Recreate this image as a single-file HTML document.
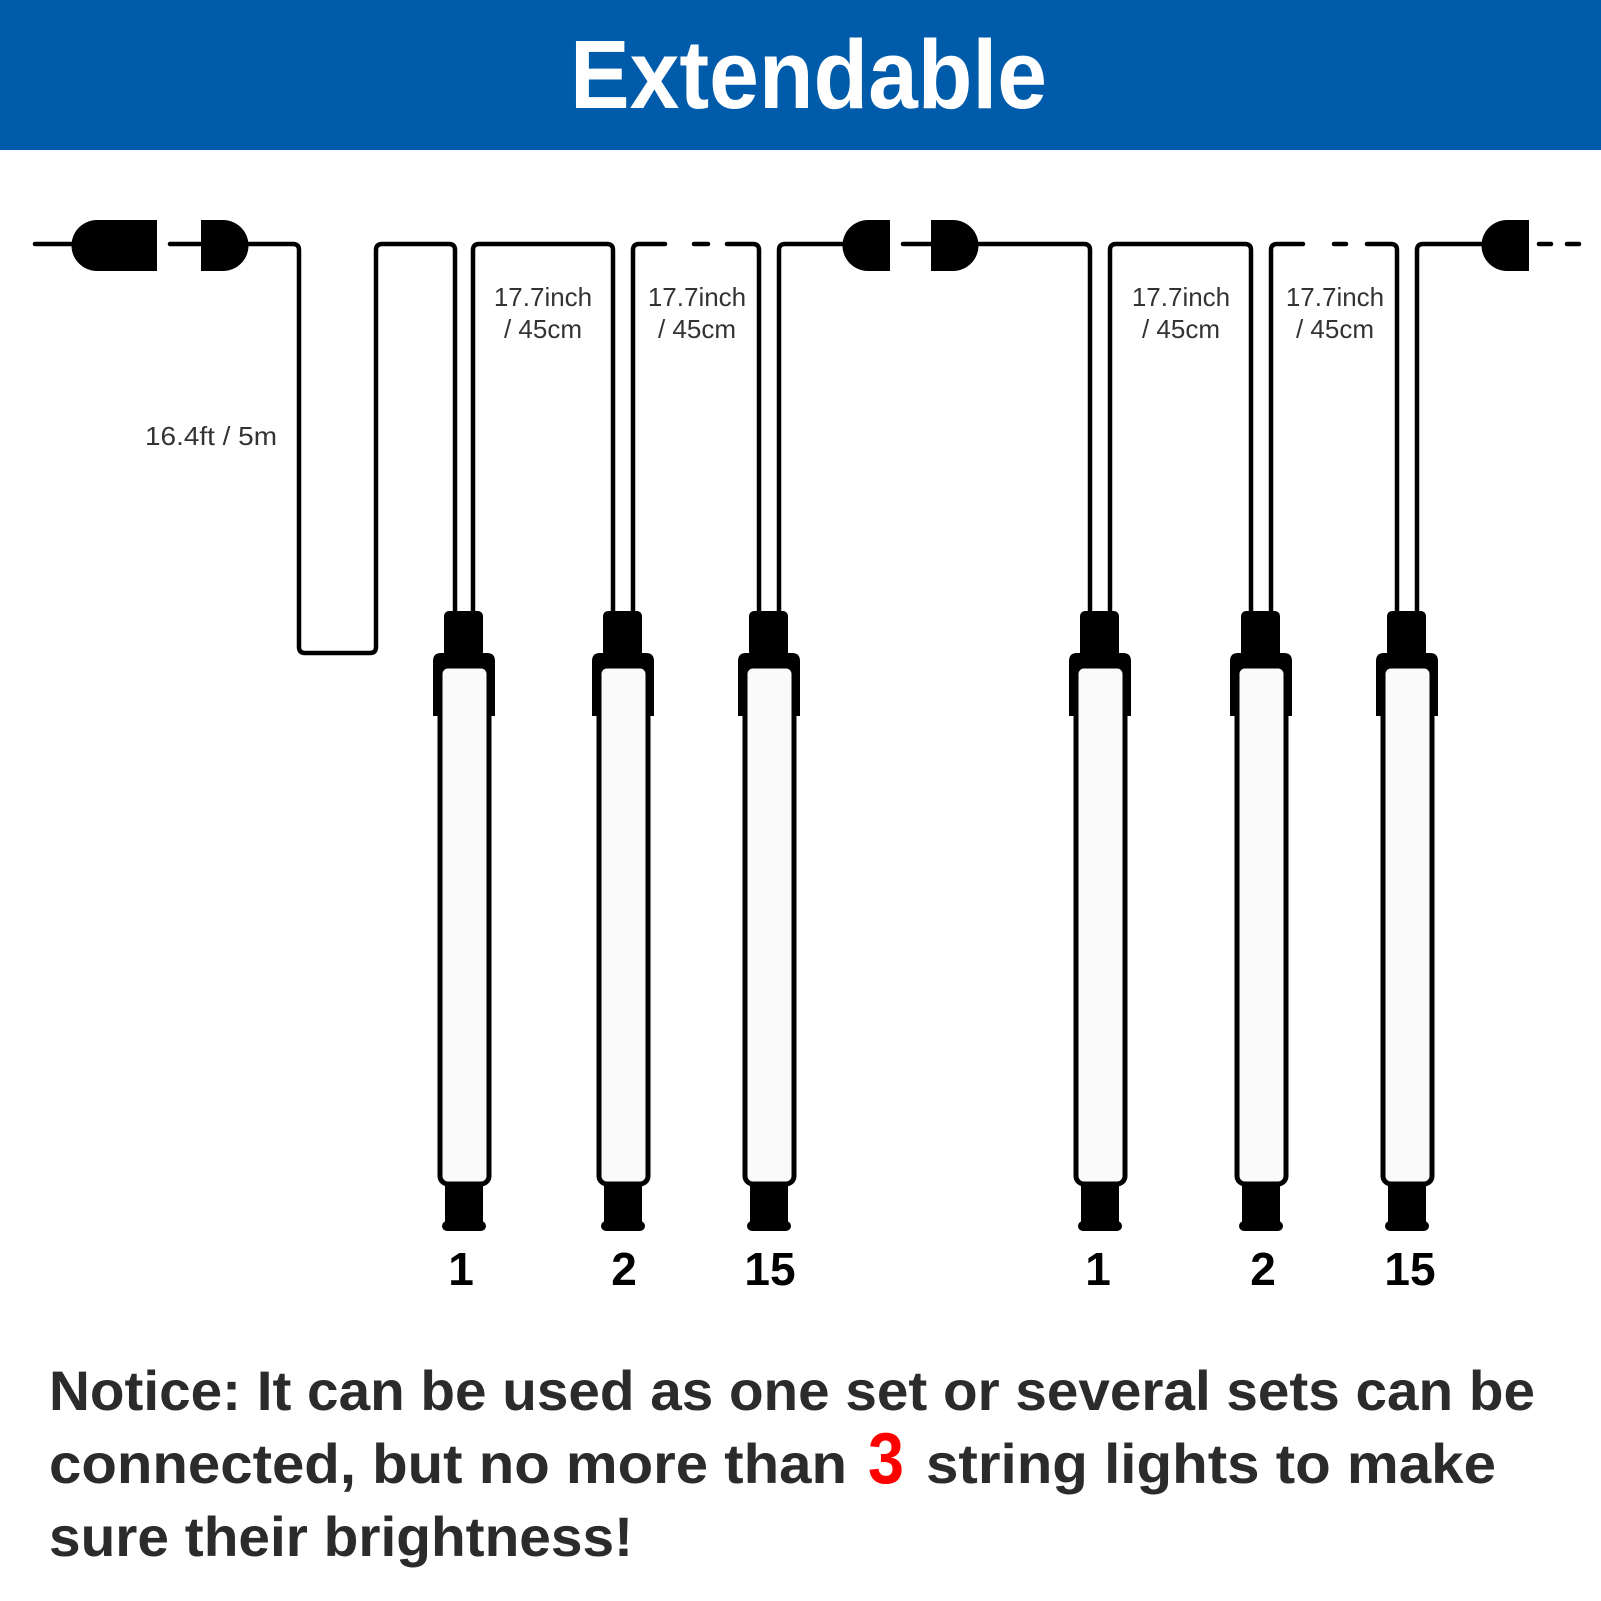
<!DOCTYPE html>
<html><head><meta charset="utf-8"><style>html,body{margin:0;padding:0;background:#fff}svg{display:block}</style></head>
<body>
<svg width="1601" height="1601" viewBox="0 0 1601 1601" xmlns="http://www.w3.org/2000/svg">
<defs>
<g id="b">
<rect x="-20" y="611" width="39" height="46" rx="5" fill="#000"/>
<path d="M-31 716 V661 q0 -8 8 -8 H23 q8 0 8 8 V716 Z" fill="#000"/>
<rect x="-24" y="666" width="49" height="518" rx="8" fill="#fafafa" stroke="#000" stroke-width="5"/>
<rect x="-19" y="1186" width="38" height="40" fill="#000"/>
<rect x="-22" y="1221" width="44" height="10" rx="5" fill="#000"/>
</g>
</defs>
<rect x="0" y="0" width="1601" height="150" fill="#005bab"/>
<text x="570" y="108" font-family="Liberation Sans, sans-serif" font-weight="bold" font-size="97" fill="#fff" textLength="477" lengthAdjust="spacingAndGlyphs">Extendable</text>

<g fill="none" stroke="#000" stroke-width="4.5" stroke-linecap="round" stroke-linejoin="round">
<path d="M35 244 H72"/>
<path d="M170 244 H202"/>
<path d="M248 244 H293 q6 0 6 6 V647 q0 6 6 6 H370 q6 0 6 -6 V250 q0 -6 6 -6 H449 q6 0 6 6 V611"/>
<path d="M473 611 V250 q0 -6 6 -6 H607 q6 0 6 6 V611"/>
<path d="M633 611 V250 q0 -6 6 -6 H665"/>
<path d="M694 244 H708"/>
<path d="M727 244 H753 q6 0 6 6 V611"/>
<path d="M779 611 V250 q0 -6 6 -6 H845"/>
<path d="M903 244 H932"/>
<path d="M978 244 H1084 q6 0 6 6 V611"/>
<path d="M1110 611 V250 q0 -6 6 -6 H1245 q6 0 6 6 V611"/>
<path d="M1271 611 V250 q0 -6 6 -6 H1303"/>
<path d="M1334 244 H1346"/>
<path d="M1367 244 H1391 q6 0 6 6 V611"/>
<path d="M1417 611 V250 q0 -6 6 -6 H1485"/>
<path d="M1539 244 H1551"/>
<path d="M1567 244 H1579"/>
</g>
<g fill="#000">
<path d="M157 220 H97 a25.5 25.5 0 0 0 0 51 H157 Z"/>
<path d="M201 220 H223 a25.5 25.5 0 0 1 0 51 H201 Z"/>
<path d="M890 220 H868 a25.5 25.5 0 0 0 0 51 H890 Z"/>
<path d="M931 220 H953 a25.5 25.5 0 0 1 0 51 H931 Z"/>
<path d="M1529 220 H1507 a25.5 25.5 0 0 0 0 51 H1529 Z"/>
</g>

<use href="#b" x="464"/>
<use href="#b" x="623"/>
<use href="#b" x="769"/>
<use href="#b" x="1100"/>
<use href="#b" x="1261"/>
<use href="#b" x="1407"/>

<g font-family="Liberation Sans, sans-serif" font-size="26" fill="#333">
<text x="145" y="445" textLength="132" lengthAdjust="spacingAndGlyphs">16.4ft / 5m</text>
<g text-anchor="middle">
<text x="543" y="306">17.7inch</text><text x="543" y="338">/ 45cm</text>
<text x="697" y="306">17.7inch</text><text x="697" y="338">/ 45cm</text>
<text x="1181" y="306">17.7inch</text><text x="1181" y="338">/ 45cm</text>
<text x="1335" y="306">17.7inch</text><text x="1335" y="338">/ 45cm</text>
</g>
</g>
<g font-family="Liberation Sans, sans-serif" font-size="46" font-weight="bold" fill="#000" text-anchor="middle">
<text x="461" y="1285">1</text><text x="624" y="1285">2</text><text x="770" y="1285">15</text>
<text x="1098" y="1285">1</text><text x="1263" y="1285">2</text><text x="1410" y="1285">15</text>
</g>
<g font-family="Liberation Sans, sans-serif" font-size="56" font-weight="bold" fill="#2b2b2b">
<text x="49" y="1410" textLength="1486" lengthAdjust="spacingAndGlyphs">Notice: It can be used as one set or several sets can be</text>
<text x="49" y="1483" textLength="798" lengthAdjust="spacingAndGlyphs">connected, but no more than</text>
<text x="868" y="1483" font-size="72" fill="#f00" textLength="36" lengthAdjust="spacingAndGlyphs">3</text>
<text x="926" y="1483" textLength="570" lengthAdjust="spacingAndGlyphs">string lights to make</text>
<text x="49" y="1556" textLength="584" lengthAdjust="spacingAndGlyphs">sure their brightness!</text>
</g>
</svg>
</body></html>
